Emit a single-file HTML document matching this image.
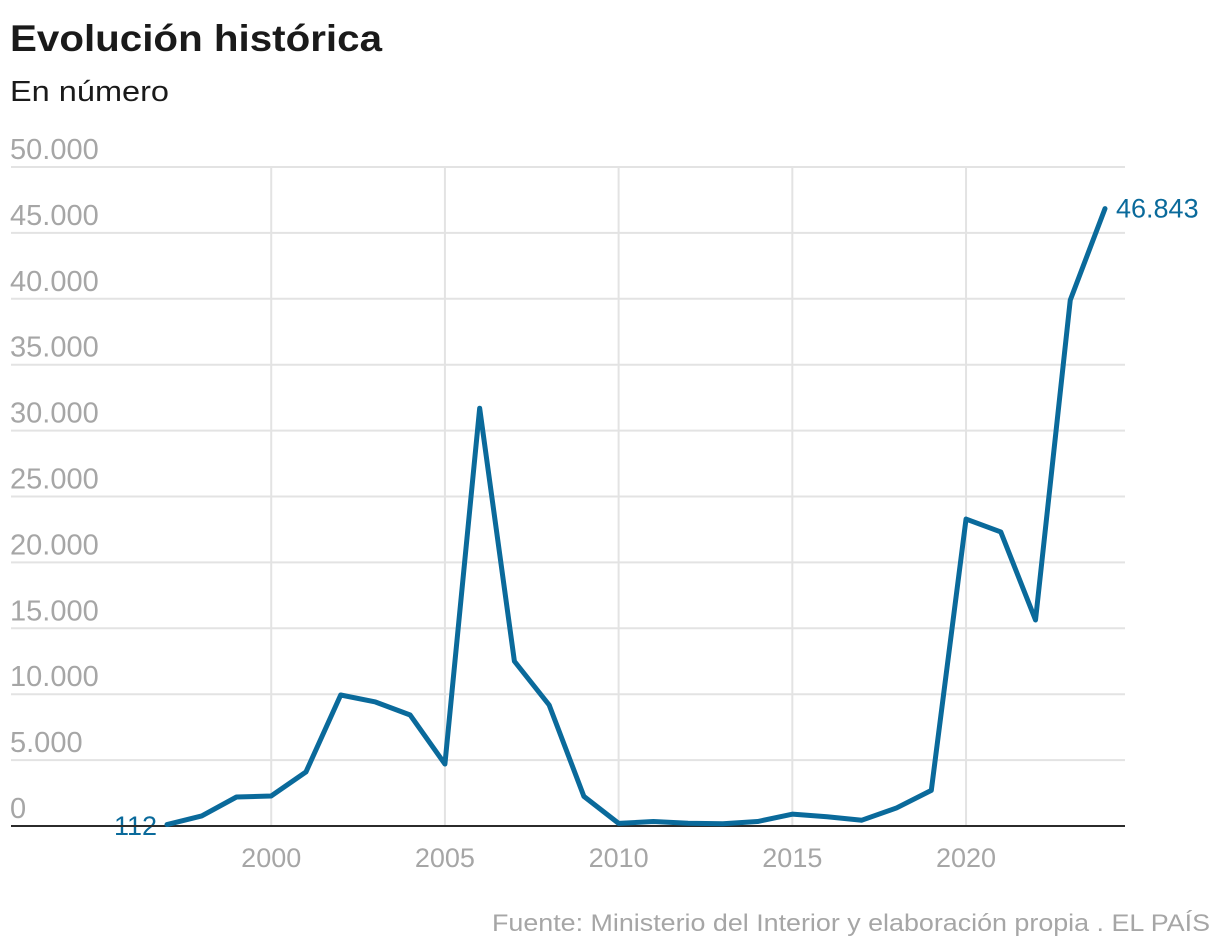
<!DOCTYPE html>
<html><head><meta charset="utf-8"><style>
body{margin:0;background:#fff;}
svg{display:block;font-family:"Liberation Sans",sans-serif;}
</style></head><body>
<svg id="chart" width="1220" height="952">
<text x="10" y="51" font-size="37" font-weight="bold" fill="#1a1a1a" textLength="372" lengthAdjust="spacingAndGlyphs">Evolución histórica</text>
<text x="10" y="101" font-size="29" fill="#1a1a1a" textLength="159" lengthAdjust="spacingAndGlyphs">En número</text>
<g id="grid"></g>
<g id="series"></g>
<text x="1210" y="931" font-size="24" fill="#a6a6a6" text-anchor="end" textLength="718" lengthAdjust="spacingAndGlyphs">Fuente: Ministerio del Interior y elaboración propia . EL PAÍS</text>
</svg>
<script>
const years = [1997,1998,1999,2000,2001,2002,2003,2004,2005,2006,2007,2008,2009,2010,2011,2012,2013,2014,2015,2016,2017,2018,2019,2020,2021,2022,2023,2024];
const values = [112,760,2200,2280,4100,9940,9410,8420,4700,31700,12500,9180,2250,200,340,210,170,340,900,700,440,1370,2700,23290,22310,15630,39900,46843];
const yTicks = [0,5000,10000,15000,20000,25000,30000,35000,40000,45000,50000];
const xTicks = [2000,2005,2010,2015,2020];
const NS="http://www.w3.org/2000/svg";
const x = v => 167 + (v-1997)*(1105-167)/(2024-1997);
const y = v => 826 - v*(826-167)/50000;
const fmt = v => v.toLocaleString('de-DE');
const grid=document.getElementById('grid'), ser=document.getElementById('series');
function mk(p,tag,attrs){const e=document.createElementNS(NS,tag);for(const k in attrs)e.setAttribute(k,attrs[k]);p.appendChild(e);return e;}
xTicks.forEach(t=>{
  const l=mk(grid,'line',{x1:x(t),x2:x(t),y1:y(50000),y2:y(0),stroke:'#e3e3e3','stroke-width':2});
  
  
  const tx=mk(grid,'text',{x:x(t),y:867,'font-size':27,fill:'#a6a6a6','text-anchor':'middle'});
  tx.textContent=t;
  
  
});
yTicks.forEach(t=>{
  if(t>0){
    const l=mk(grid,'line',{x1:11,x2:1125,y1:y(t),y2:y(t),stroke:'#e3e3e3','stroke-width':2});
    
    
  }
  const tx=mk(grid,'text',{x:10,y:y(t)-8,'font-size':29,fill:'#a6a6a6'});
  tx.textContent=fmt(t);
  
  
});
const lbl0=mk(ser,'text',{x:157,y:y(0)+9,'font-size':27,fill:'#0a6a9b','text-anchor':'end'});
lbl0.textContent=fmt(values[0]);


const zl=mk(ser,'line',{x1:11,x2:1125,y1:y(0),y2:y(0),stroke:'#2b2b2b','stroke-width':2});


const path=mk(ser,'polyline',{points:years.map((yr,i)=>x(yr)+','+y(values[i])).join(' '),fill:'none',stroke:'#0a6a9b','stroke-width':5,'stroke-linejoin':'round','stroke-linecap':'round'});


const n=values.length-1;
const le=mk(ser,'text',{x:x(years[n])+11,y:y(values[n])+9,'font-size':27,fill:'#0a6a9b'});
le.textContent=fmt(values[n]);


</script>
</body></html>
